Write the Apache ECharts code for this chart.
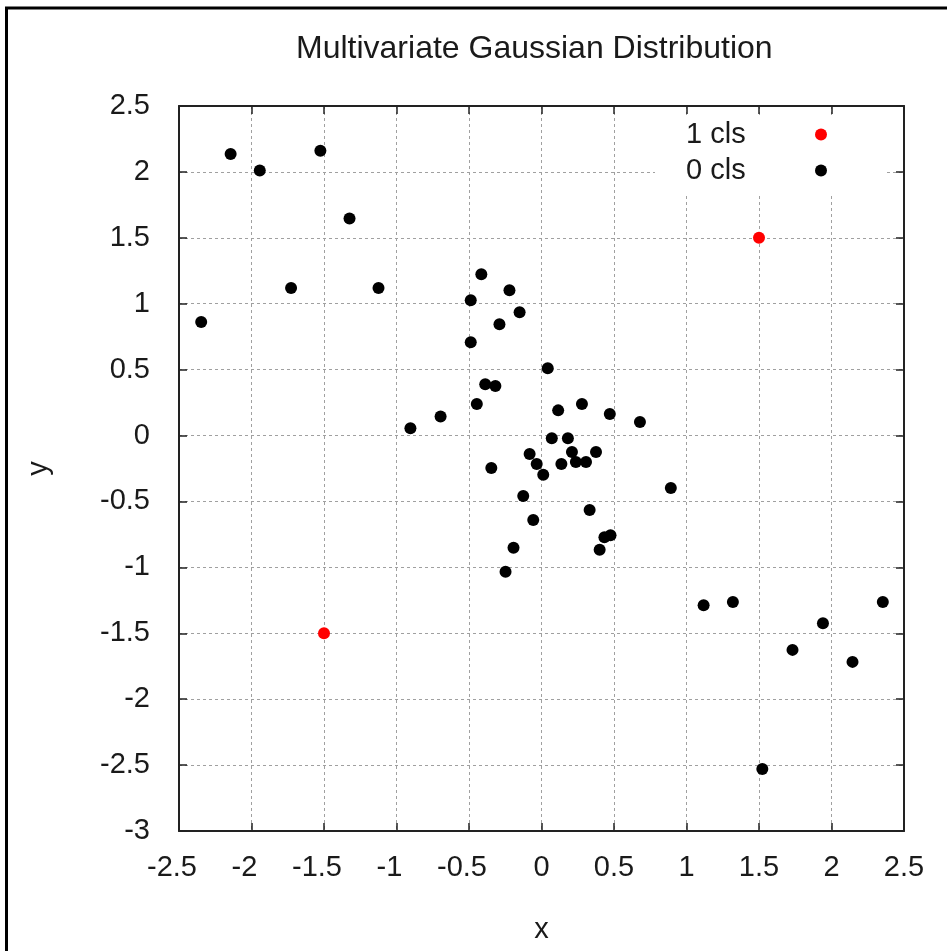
<!DOCTYPE html>
<html>
<head>
<meta charset="utf-8">
<script src="https://cdn.jsdelivr.net/npm/echarts@6/dist/echarts.min.js"></script>
<style>
  html, body { margin: 0; padding: 0; background: #fff; }
  #main { width: 947px; height: 951px; }
</style>
</head>
<body>
<div id="main"></div>
<script>
// class 0 points (black)
const cls0X = [-2.347, -2.144, -1.943, -1.525, -1.324, -1.727, -1.124,
  -0.415, -0.221, -0.488, -0.151, -0.290, -0.488, 0.043, -0.388, -0.318, -0.446,
  -0.696, -0.904, 0.115, 0.279, 0.471, 0.679, 0.071, 0.182, -0.082, 0.210, 0.376,
  -0.346, -0.033, 0.012, 0.137, 0.237, 0.307, -0.126, 0.892, 0.332, -0.057,
  0.434, 0.476, 0.401, -0.193, -0.248,
  1.118, 1.320, 1.941, 2.354, 1.731, 2.145, 1.523];
const cls0Y = [0.861, 2.136, 2.010, 2.160, 1.646, 1.119, 1.119,
  1.223, 1.102, 1.027, 0.936, 0.845, 0.708, 0.511, 0.390, 0.375, 0.239,
  0.145, 0.055, 0.191, 0.239, 0.163, 0.102, -0.021, -0.021, -0.140, -0.125, -0.125,
  -0.246, -0.216, -0.297, -0.216, -0.201, -0.201, -0.458, -0.398, -0.564, -0.640,
  -0.771, -0.756, -0.867, -0.852, -1.034,
  -1.288, -1.263, -1.424, -1.263, -1.626, -1.717, -2.530];
// class 1 points (red)
const cls1X = [-1.5, 1.5];
const cls1Y = [-1.5, 1.5];

const zip = (xs, ys) => xs.map((x, i) => [x, ys[i]]);

const FONT = "Liberation Sans, Arial, sans-serif";
const INK = "#1a1a1a";

const myChart = echarts.init(document.getElementById("main"));

const gridLine = { show: true, lineStyle: { color: "#a0a0a0", width: 1, type: [3, 3] } };
const frame = { show: true, onZero: false, lineStyle: { color: "#222", width: 2 } };
const tick = { show: true, inside: true, length: 8, lineStyle: { color: "#222", width: 1.5 } };
const labelFont = { fontFamily: FONT, fontSize: 29, color: INK };

const option = {
  animation: false,
  backgroundColor: "#fff",
  title: {
    text: "Multivariate Gaussian Distribution",
    left: 291,
    top: 28,
    textStyle: { fontFamily: FONT, fontSize: 32, fontWeight: "normal", color: INK },
  },
  graphic: [
    {
      type: "polyline",
      shape: { points: [[6.5, 951], [6.5, 8], [947, 8]] },
      style: { stroke: "#000", lineWidth: 3, fill: null },
    },
  ],
  legend: {
    orient: "vertical",
    align: "right",
    left: 655,
    top: 115,
    padding: [5, 60, 9, 31],
    itemGap: 7,
    itemWidth: 12,
    itemHeight: 12,
    backgroundColor: "#fff",
    data: ["1 cls", "0 cls"],
    formatter: "{t|{name}}",
    textStyle: {
      ...labelFont,
      rich: { t: { ...labelFont, width: 124, lineHeight: 30, align: "left" } },
    },
  },
  grid: { left: 179, right: 43, top: 106, bottom: 120 },
  xAxis: [
    {
      type: "value", min: -2.5, max: 2.5, interval: 0.5,
      name: "x", nameLocation: "middle", nameGap: 84,
      nameTextStyle: labelFont,
      axisLine: frame, axisTick: tick, splitLine: gridLine,
      axisLabel: {
        margin: 22, ...labelFont,
        formatter: (v) => (v < 0 ? "{n|" + v + "}" : String(v)),
        rich: { n: { ...labelFont, padding: [0, 14, 0, 0] } },
      },
    },
    {
      type: "value", position: "top", min: -2.5, max: 2.5, interval: 0.5,
      axisLine: frame, axisTick: tick, splitLine: { show: false },
      axisLabel: { show: false },
    },
  ],
  yAxis: [
    {
      type: "value", min: -3, max: 2.5, interval: 0.5,
      name: "y", nameLocation: "middle", nameGap: 126, nameRotate: 90,
      nameTextStyle: labelFont,
      axisLine: frame, axisTick: tick, splitLine: gridLine,
      axisLabel: { margin: 29, ...labelFont },
    },
    {
      type: "value", position: "right", min: -3, max: 2.5, interval: 0.5,
      axisLine: frame, axisTick: tick, splitLine: { show: false },
      axisLabel: { show: false },
    },
  ],
  series: [
    {
      name: "0 cls",
      type: "scatter",
      symbol: "circle",
      symbolSize: 12,
      itemStyle: { color: "#000", opacity: 1 },
      data: zip(cls0X, cls0Y),
    },
    {
      name: "1 cls",
      type: "scatter",
      symbol: "circle",
      symbolSize: 12,
      itemStyle: { color: "#ff0000", opacity: 1 },
      data: zip(cls1X, cls1Y),
    },
  ],
};

myChart.setOption(option);
</script>
</body>
</html>
